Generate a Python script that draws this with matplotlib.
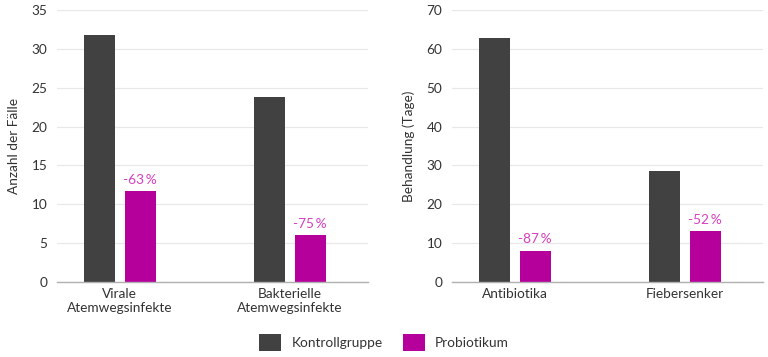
import matplotlib
matplotlib.use("Agg")
import matplotlib.pyplot as plt
from matplotlib.patches import Patch

plt.rcParams['font.family'] = ['Lato', 'DejaVu Sans']

left_categories = ["Virale\nAtemwegsinfekte", "Bakterielle\nAtemwegsinfekte"]
left_control = [31.8, 23.8]
left_probiotic = [11.7, 6.05]
left_labels = ["-63\u2009%", "-75\u2009%"]
left_ylabel = "Anzahl der Fälle"
left_ticks = [0, 5, 10, 15, 20, 25, 30, 35]

right_categories = ["Antibiotika", "Fiebersenker"]
right_control = [62.8, 28.6]
right_probiotic = [8.0, 13.1]
right_labels = ["-87\u2009%", "-52\u2009%"]
right_ylabel = "Behandlung (Tage)"
right_ticks = [0, 10, 20, 30, 40, 50, 60, 70]

legend_names = ["Kontrollgruppe", "Probiotikum"]

C_CTRL = "#414141"
C_PRO = "#B5009B"
C_LBL = "#D63FBE"
TXT = "#333333"

fig = plt.figure(figsize=(7.68, 3.57), dpi=100)
ax1 = fig.add_axes([0.0742, 0.210, 0.405, 0.762])
ax2 = fig.add_axes([0.5885, 0.210, 0.405, 0.762])

w = 0.18
off = 0.12

def draw(ax, cats, ctrl, pro, labels, ylabel, ticks):
    xs = list(range(len(cats)))
    ax.bar([x - off for x in xs], ctrl, width=w, color=C_CTRL, zorder=3)
    ax.bar([x + off for x in xs], pro, width=w, color=C_PRO, zorder=3)
    top = ticks[-1]
    for x, v, t in zip(xs, pro, labels):
        ax.text(x + off, v + top * 0.02, t, ha='center', va='bottom',
                color=C_LBL, fontsize=9.8)
    ax.set_xlim(-0.37, 1.46)
    ax.set_ylim(0, top)
    ax.set_yticks(ticks)
    ax.set_xticks(xs)
    ax.set_xticklabels(cats, fontsize=9.8, color=TXT, linespacing=1.25)
    ax.tick_params(axis='y', length=0, labelsize=9.8, labelcolor=TXT, pad=7)
    ax.tick_params(axis='x', length=0, pad=4)
    ax.grid(axis='y', color='#e8e8e8', linewidth=0.9, zorder=0)
    for s in ['top', 'right', 'left']:
        ax.spines[s].set_visible(False)
    ax.spines['bottom'].set_color('#b0b0b0')
    ax.spines['bottom'].set_linewidth(1.0)
    ax.spines['bottom'].set_zorder(4)
    ax.set_ylabel(ylabel, fontsize=9.8, color=TXT, labelpad=8)

draw(ax1, left_categories, left_control, left_probiotic, left_labels, left_ylabel, left_ticks)
draw(ax2, right_categories, right_control, right_probiotic, right_labels, right_ylabel, right_ticks)

handles = [Patch(facecolor=C_CTRL), Patch(facecolor=C_PRO)]
fig.legend(handles, legend_names, loc='center', bbox_to_anchor=(0.5, 0.040),
           ncol=2, frameon=False, fontsize=9.8, handlelength=1.6, handleheight=1.6,
           columnspacing=1.5, handletextpad=0.75, labelcolor=TXT)

fig.savefig("out.png", dpi=100)
